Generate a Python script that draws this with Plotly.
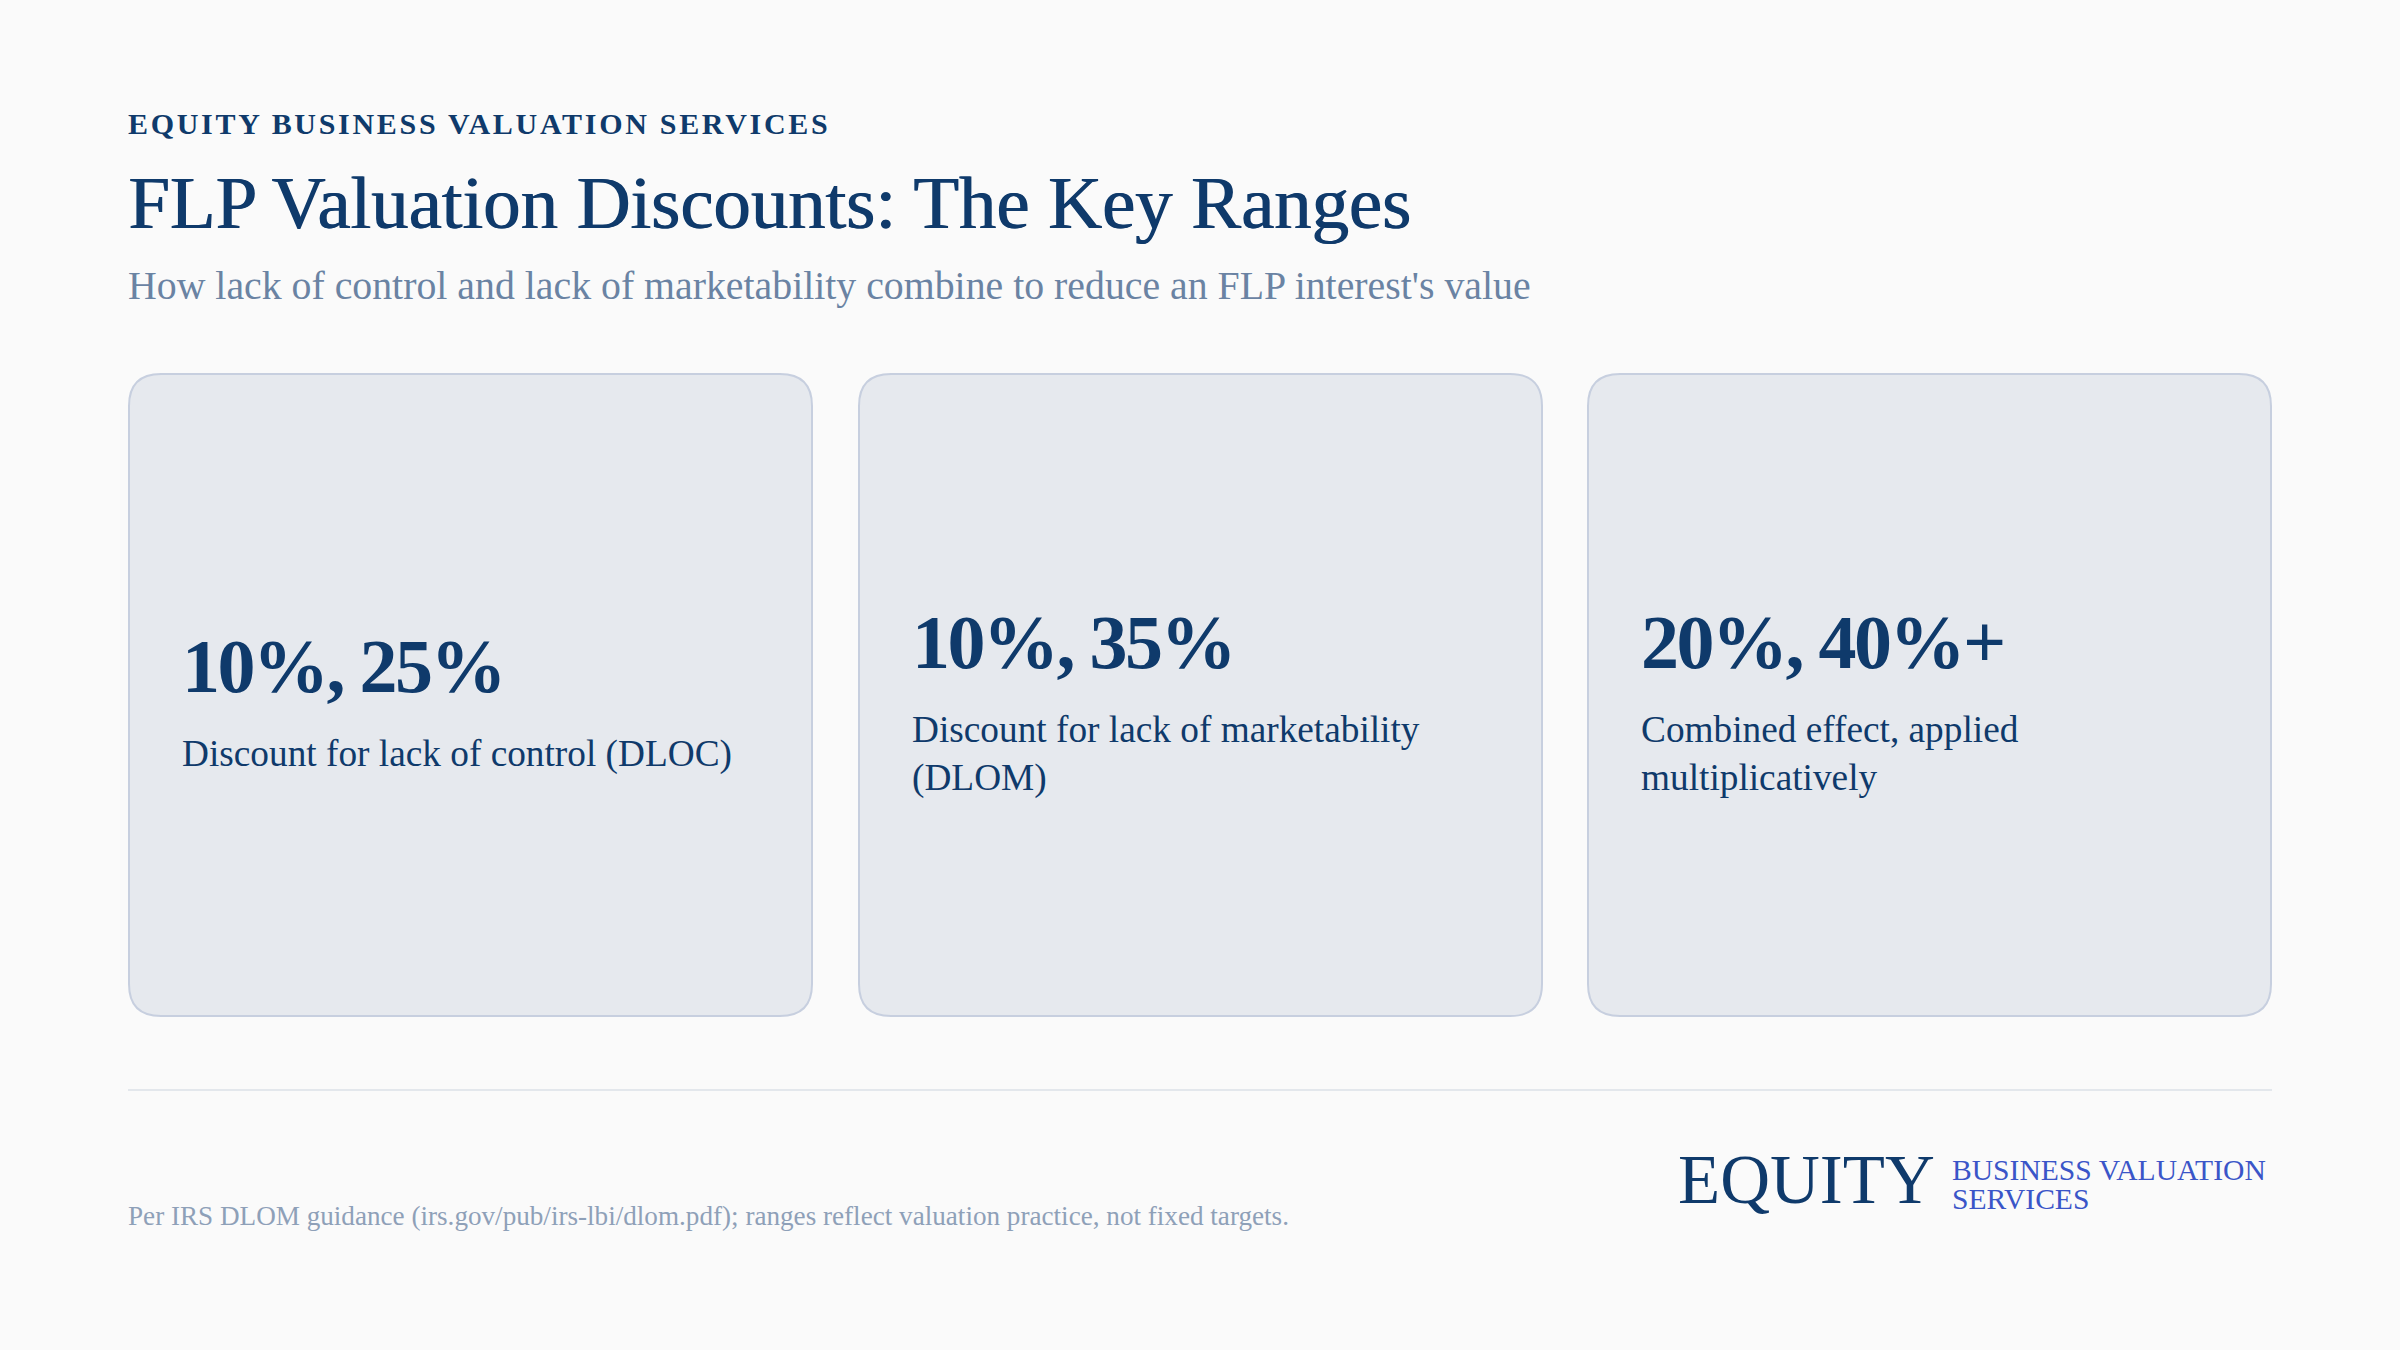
#! /usr/bin/env python3

import plotly.graph_objects as go

eyebrow = "EQUITY BUSINESS VALUATION SERVICES"
title = "FLP Valuation Discounts: The Key Ranges"
subtitle = "How lack of control and lack of marketability combine to reduce an FLP interest's value"
footnote = "Per IRS DLOM guidance (irs.gov/pub/irs-lbi/dlom.pdf); ranges reflect valuation practice, not fixed targets."

card_values = ["10%, 25%", "10%, 35%", "20%, 40%+"]
card_labels = ["Discount for lack of control (DLOC)",
               "Discount for lack of marketability<br>(DLOM)",
               "Combined effect, applied<br>multiplicatively"]
logo_word = "EQUITY"
logo_lines = ["BUSINESS VALUATION", "SERVICES"]

W = 2400
H = 1350
SERIF = "Liberation Serif"
NAVY = "#0f3a6b"
BACK = "#fafafa"

# page margin off, plus the letter spacing plotly has no attribute for
POST_SCRIPT = f"""
document.body.style.margin = '0';
document.body.style.background = '{BACK}';
document.querySelectorAll('.annotation-text').forEach(function (el) {{
    var size = parseFloat(el.style.fontSize);
    if (size === 30) el.style.letterSpacing = '2.7px';
    if (size === 76) el.style.letterSpacing = '-2.5px';
}});
"""


def rounded_rect(x0, y0, x1, y1, r):
    return (f"M{x0+r},{y0} L{x1-r},{y0} Q{x1},{y0} {x1},{y0+r} "
            f"L{x1},{y1-r} Q{x1},{y1} {x1-r},{y1} "
            f"L{x0+r},{y1} Q{x0},{y1} {x0},{y1-r} "
            f"L{x0},{y0+r} Q{x0},{y0} {x0+r},{y0} Z")


def add_text(fig, x, y, text, size, color, bold=False, shadow=None, yanchor='bottom'):
    fig.add_annotation(x=x, y=y, text=text, showarrow=False, align='left',
                       xanchor='left', yanchor=yanchor, borderpad=0, borderwidth=0,
                       font=dict(family=SERIF, size=size, color=color,
                                 weight=700 if bold else 400, shadow=shadow or 'none'))


def main():
    fig = go.Figure()

    card_left = [128, 858, 1587]
    value_y = [708, 684, 684]
    label_y = [733, 709, 709]
    for left, value, label, vy, ly in zip(card_left, card_values, card_labels, value_y, label_y):
        fig.add_shape(type='path', path=rounded_rect(left+1, 374, left+684, 1016, 32),
                      fillcolor="#e6e9ee", line=dict(color="#c7cfdf", width=2), layer='below')
        add_text(fig, left+54, vy, value, 76, NAVY, bold=True)
        add_text(fig, left+54, ly, label, 37.3, NAVY, yanchor='top')

    add_text(fig, 128, 140, eyebrow, 30, NAVY, bold=True)
    add_text(fig, 128, 244, title, 74.7, NAVY, shadow=f"1px 0 0 {NAVY}")
    add_text(fig, 128, 308, subtitle, 39.8, "#6a83a3")

    # footer
    fig.add_shape(type='line', x0=128, x1=2272, y0=1090, y1=1090,
                  line=dict(color="#e3e7ec", width=2))
    add_text(fig, 128, 1231, footnote, 27.15, "#8ea0b8")
    add_text(fig, 1678, 1218, logo_word, 69, NAVY)
    add_text(fig, 1952, 1186, logo_lines[0], 29.6, "#3a55c8")
    add_text(fig, 1952, 1215, logo_lines[1], 29.6, "#3a55c8")

    fig.update_layout(
        width=W, height=H, margin=dict(l=0, r=0, t=0, b=0),
        paper_bgcolor=BACK, plot_bgcolor=BACK, showlegend=False,
        xaxis=dict(range=[0, W], visible=False, fixedrange=True),
        yaxis=dict(range=[H, 0], visible=False, fixedrange=True),
    )
    fig.write_html("out.html", config=dict(displayModeBar=False), post_script=POST_SCRIPT)


if __name__ == '__main__':
    main()
